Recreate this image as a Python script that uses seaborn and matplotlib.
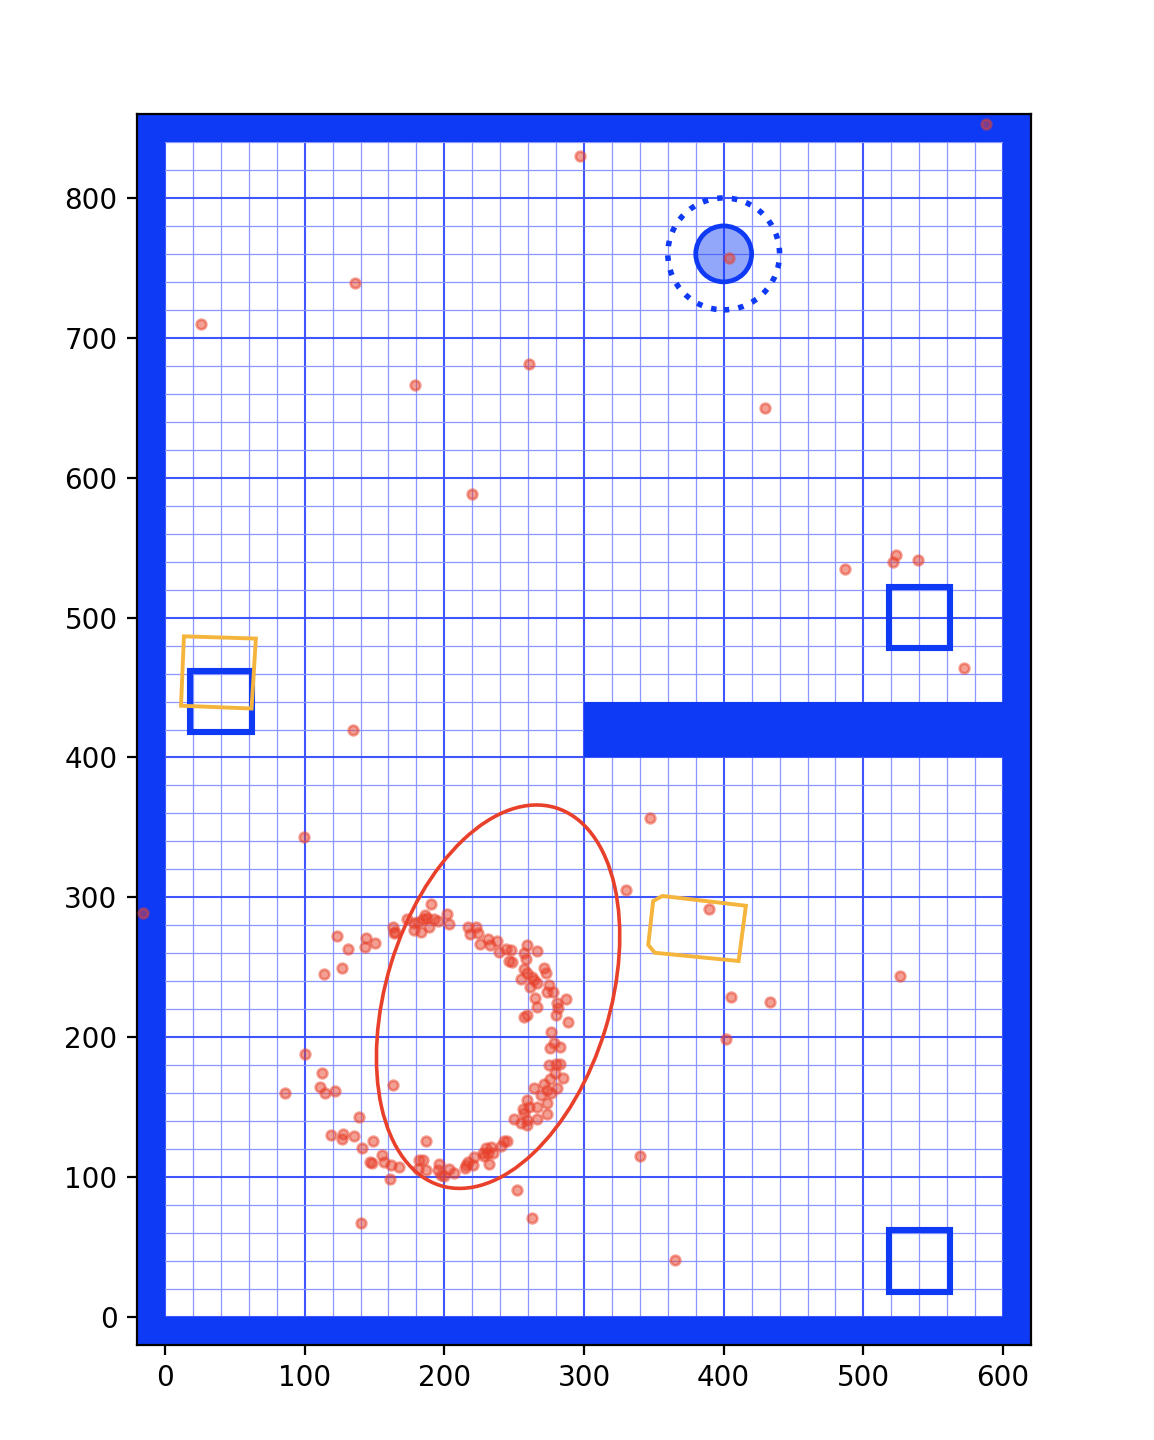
import numpy as np
import pandas as pd
import matplotlib
matplotlib.use('Agg')
import matplotlib.pyplot as plt
import seaborn as sns
from matplotlib.patches import Rectangle, Circle, Ellipse, Polygon

# Map walls (x0, y0, width, height)
wall_x0 = [-20, 600, -20, -20, 300]
wall_y0 = [-20, -20, -20, 840, 400]
wall_w = [20, 20, 640, 640, 300]
wall_h = [880, 880, 20, 20, 40]

# Landmarks (square beacons): centres
beacon_x = [40, 540, 540]
beacon_y = [440, 500, 40]
beacon_size = 44

# Goal
goal_x, goal_y = 400, 760
goal_r, goal_tol = 20, 40

# Robot footprints (polygons)
robot_a = [(13.6, 486.6), (65.1, 485.0), (62.0, 435.0), (11.5, 437.0)]
robot_b = [(356.2, 301.0), (415.9, 294.0), (410.7, 254.5), (350.7, 260.4),
           (346.0, 266.0), (349.5, 297.4)]

# Estimate covariance ellipse
ell_cx, ell_cy = 238.5, 229.0
ell_w, ell_h, ell_angle = 282.4, 160.4, 73.0

# Particles
particle_x = [
    190.7, 201.7, 203.6, 186.0, 184.5, 187.6, 181.0, 178.1, 183.1, 178.1,
    189.0, 173.1, 195.2, 192.9, 163.1, 165.0, 164.3, 216.7, 222.6, 218.3,
    224.3, 225.5, 231.4, 232.9, 237.4, 239.3, 244.5, 247.6, 246.4, 248.1,
    259.5, 257.1, 266.2, 258.3, 256.7, 259.0, 263.1, 271.4, 272.6, 255.2,
    264.3, 261.4, 266.7, 275.0, 273.3, 278.1, 264.8, 266.7, 286.9, 281.0,
    281.4, 279.8, 257.1, 259.0, 288.6, 276.2, 278.6, 275.7, 282.9, 275.2,
    279.8, 282.6, 279.3, 285.0, 275.7, 271.4, 264.3, 273.3, 281.0, 269.0,
    276.2, 259.0, 256.2, 260.7, 266.2, 273.8, 273.3, 257.1, 259.0, 266.7,
    250.0, 254.8, 259.5, 245.2, 242.9, 240.5, 233.3, 229.8, 227.4, 231.0,
    235.2, 228.6, 221.4, 216.7, 215.5, 220.2, 214.8, 232.1, 206.7, 203.6,
    196.0, 195.2, 197.6, 200.0, 186.9, 184.5, 182.1, 181.0, 167.9, 161.9,
    157.1, 155.5, 148.1, 147.1, 141.2, 148.8, 135.0, 127.4, 126.9, 119.0,
    138.6, 163.1, 186.9, 161.2, 122.9, 130.7, 143.6, 142.9, 150.7, 126.9,
    113.6, 112.6, 111.2, 114.3, 122.1, 100.0, 86.2,
    588, 297, 136, 26, 260.6, 179, 404, 429.5, 220, 487,
    523, 521, 539, 572, 134.6, 99.5, 347, 330, 389.5, 405,
    433, 402, 526, 340, 365, -16, 140, 252, 263,
]
particle_y = [
    295.2, 288.3, 280.7, 287.6, 284.3, 285.5, 282.6, 281.4, 275.0, 276.7,
    278.6, 284.5, 283.1, 284.3, 279.0, 275.5, 274.3, 279.0, 279.0, 273.8,
    274.3, 266.9, 270.0, 266.0, 269.0, 261.2, 263.3, 262.1, 254.5, 253.8,
    266.0, 260.0, 261.9, 256.2, 249.0, 245.7, 243.3, 249.3, 245.7, 241.9,
    241.0, 236.2, 238.6, 237.4, 232.6, 232.6, 228.3, 221.9, 227.4, 224.3,
    220.7, 216.0, 214.8, 216.0, 211.0, 203.6, 195.7, 192.1, 193.3, 180.2,
    181.0, 181.2, 174.8, 170.7, 170.0, 166.7, 163.8, 162.4, 163.6, 158.8,
    160.0, 155.2, 148.6, 149.8, 150.0, 152.9, 145.0, 145.7, 141.0, 141.9,
    141.4, 139.0, 137.4, 126.0, 125.5, 122.6, 121.4, 120.7, 117.1, 117.1,
    117.1, 114.8, 114.3, 110.5, 108.6, 108.6, 106.4, 109.5, 103.3, 105.7,
    109.3, 105.2, 101.7, 101.0, 105.2, 112.4, 112.4, 105.7, 107.6, 108.8,
    110.7, 115.5, 110.0, 110.5, 120.5, 126.0, 129.5, 130.7, 127.4, 130.0,
    142.9, 166.0, 126.0, 98.6, 272.4, 262.9, 270.7, 264.3, 267.4, 249.8,
    245.0, 174.3, 164.5, 160.0, 161.7, 188.1, 160.0,
    853, 830, 739, 710, 681, 666, 757, 650, 588, 535,
    545, 540, 541, 464, 420, 343, 357, 305, 292, 229,
    225, 199, 244, 115, 41, 289, 67, 91, 71,
]

wall_color = '#0f3af5'
red = '#e8402a'
orange = '#f5b43c'

fig = plt.figure(figsize=(1154 / 200, 1440 / 200), dpi=200)
ax = fig.add_axes([137 / 1154, 95 / 1440, 894 / 1154, 1231 / 1440])
ax.set_axisbelow(True)

# grid
ax.set_xticks(np.arange(0, 601, 100))
ax.set_yticks(np.arange(0, 801, 100))
ax.set_xticks(np.arange(0, 601, 20), minor=True)
ax.set_yticks(np.arange(0, 841, 20), minor=True)
ax.tick_params(which='minor', length=0)
ax.grid(which='major', color='#3f55ff', linewidth=0.75)
ax.grid(which='minor', color='#8c96ff', linewidth=0.45)

# walls
for x0, y0, w, h in zip(wall_x0, wall_y0, wall_w, wall_h):
    ax.add_patch(Rectangle((x0, y0), w, h, facecolor=wall_color,
                           edgecolor='none', zorder=2))

# beacons
for bx, by in zip(beacon_x, beacon_y):
    ax.add_patch(Rectangle((bx - beacon_size / 2, by - beacon_size / 2),
                           beacon_size, beacon_size, fill=False,
                           edgecolor=wall_color, linewidth=2.2, zorder=3))

# goal
ax.add_patch(Circle((goal_x, goal_y), goal_r, facecolor=(0.06, 0.23, 0.96, 0.45),
                    edgecolor=wall_color, linewidth=1.7, zorder=3))
ax.add_patch(Circle((goal_x, goal_y), goal_tol, fill=False, edgecolor=wall_color,
                    linewidth=2.0, linestyle=':', zorder=3))

# robot footprints
for poly in (robot_a, robot_b):
    ax.add_patch(Polygon(poly, closed=True, fill=False, edgecolor=orange,
                         linewidth=1.4, zorder=3))

# particles
particles = pd.DataFrame({'x': particle_x, 'y': particle_y})
sns.scatterplot(data=particles, x='x', y='y', ax=ax, color=red, edgecolor=red,
                s=12, linewidth=1.0, alpha=0.5, zorder=4)

# estimate ellipse
ax.add_patch(Ellipse((ell_cx, ell_cy), ell_w, ell_h, angle=ell_angle, fill=False,
                     edgecolor=red, linewidth=1.3, zorder=5))

ax.set_xlim(-20, 620)
ax.set_ylim(-20, 860)
ax.set_xlabel('')
ax.set_ylabel('')

fig.savefig('out.png', dpi=200)
